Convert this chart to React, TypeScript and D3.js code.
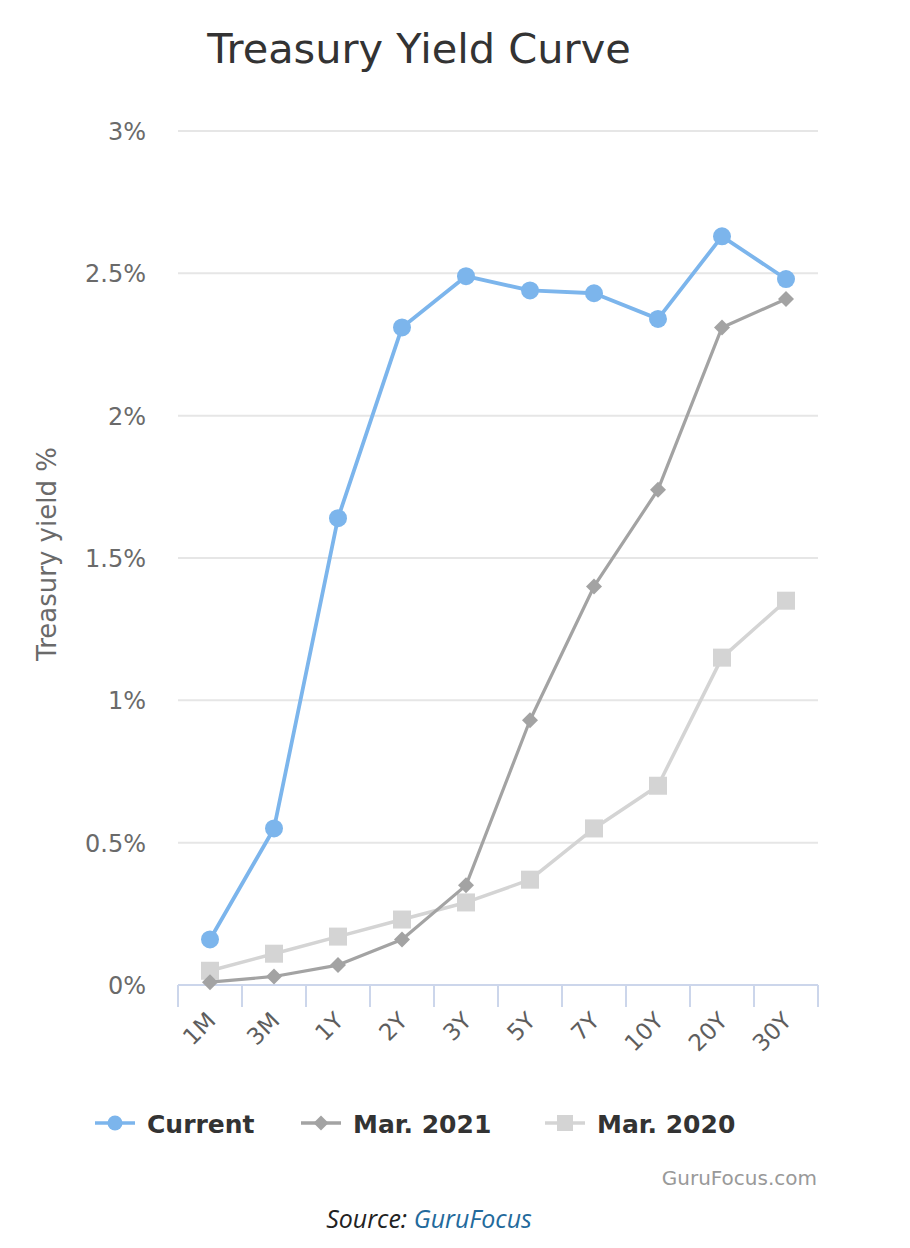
import React from "react";
import * as d3 from "d3";

const categories = ["1M", "3M", "1Y", "2Y", "3Y", "5Y", "7Y", "10Y", "20Y", "30Y"];
const currentValues = [0.16, 0.55, 1.64, 2.31, 2.49, 2.44, 2.43, 2.34, 2.63, 2.48];
const mar2021Values = [0.01, 0.03, 0.07, 0.16, 0.35, 0.93, 1.4, 1.74, 2.31, 2.41];
const mar2020Values = [0.05, 0.11, 0.17, 0.23, 0.29, 0.37, 0.55, 0.7, 1.15, 1.35];
const yTicks = [0, 0.5, 1, 1.5, 2, 2.5, 3];
const yTickLabels = ["0%", "0.5%", "1%", "1.5%", "2%", "2.5%", "3%"];
const seriesNames = ["Current", "Mar. 2021", "Mar. 2020"];

const W = 910;
const H = 1248;
const FONT = "'DejaVu Sans', Verdana, sans-serif";

type Shape = "circle" | "diamond" | "square";

function Marker({ cx, cy, shape, color, r }: { cx: number; cy: number; shape: Shape; color: string; r: number }) {
  if (shape === "circle") return <circle cx={cx} cy={cy} r={r} fill={color} />;
  if (shape === "diamond")
    return <path d={`M${cx},${cy - r}L${cx + r},${cy}L${cx},${cy + r}L${cx - r},${cy}Z`} fill={color} />;
  return <rect x={cx - r} y={cy - r} width={2 * r} height={2 * r} fill={color} />;
}

export default function App() {
  const x = d3.scaleBand<string>().domain(categories).range([178, 818]);
  const y = d3.scaleLinear().domain([0, 3]).range([985, 131]);
  const cx = (c: string) => (x(c) as number) + x.bandwidth() / 2;

  const series = [
    { name: seriesNames[2], values: mar2020Values, color: "#d4d4d4", shape: "square" as Shape, r: 9, lw: 3.5 },
    { name: seriesNames[1], values: mar2021Values, color: "#a3a3a3", shape: "diamond" as Shape, r: 8, lw: 3.2 },
    { name: seriesNames[0], values: currentValues, color: "#7cb5ec", shape: "circle" as Shape, r: 9, lw: 3.8 },
  ];

  const line = d3
    .line<number>()
    .x((_, i) => cx(categories[i]))
    .y((v) => y(v));

  const tickXs = categories.map((c) => x(c) as number).concat([x.range()[1]]);

  const legendItems = [
    { name: seriesNames[0], color: "#7cb5ec", shape: "circle" as Shape, r: 7.5, x0: 95 },
    { name: seriesNames[1], color: "#a3a3a3", shape: "diamond" as Shape, r: 7.5, x0: 301 },
    { name: seriesNames[2], color: "#d4d4d4", shape: "square" as Shape, r: 8, x0: 545 },
  ];

  return (
    <svg
      width={W}
      height={H}
      style={{ position: "absolute", left: 0, top: 0, display: "block", background: "#fff" }}
    >
      <rect x={0} y={0} width={W} height={H} fill="#fff" />
      <text x={419} y={63} textAnchor="middle" fontFamily={FONT} fontSize={41.5} fill="#333">
        Treasury Yield Curve
      </text>

      {yTicks.slice(1).map((t) => (
        <line key={t} x1={178} x2={818} y1={y(t)} y2={y(t)} stroke="#e6e6e6" strokeWidth={2} />
      ))}
      {yTicks.map((t, i) => (
        <text key={t} x={146} y={y(t) + 9} textAnchor="end" fontFamily={FONT} fontSize={24} fill="#6a6a6a">
          {yTickLabels[i]}
        </text>
      ))}
      <text
        transform="translate(56,554) rotate(-90)"
        textAnchor="middle"
        fontFamily={FONT}
        fontSize={26}
        fill="#6a6a6a"
      >
        Treasury yield %
      </text>

      <line x1={178} x2={818} y1={985} y2={985} stroke="#ccd6eb" strokeWidth={2} />
      {tickXs.map((tx, i) => (
        <line key={i} x1={tx} x2={tx} y1={985} y2={1007} stroke="#ccd6eb" strokeWidth={2} />
      ))}
      {categories.map((c) => (
        <text
          key={c}
          transform={`translate(${cx(c) + 7},1022) rotate(-45)`}
          textAnchor="end"
          fontFamily={FONT}
          fontSize={23}
          fill="#5e5e5e"
        >
          {c}
        </text>
      ))}

      {series.map((s) => (
        <g key={s.name}>
          <path d={line(s.values) || ""} fill="none" stroke={s.color} strokeWidth={s.lw} strokeLinejoin="round" />
          {s.values.map((v, i) => (
            <Marker key={i} cx={cx(categories[i])} cy={y(v)} shape={s.shape} color={s.color} r={s.r} />
          ))}
        </g>
      ))}

      {legendItems.map((it) => (
        <g key={it.name}>
          <line x1={it.x0} x2={it.x0 + 40} y1={1123} y2={1123} stroke={it.color} strokeWidth={3.5} />
          <Marker cx={it.x0 + 20} cy={1123} shape={it.shape} color={it.color} r={it.r} />
          <text x={it.x0 + 52} y={1133} fontFamily={FONT} fontWeight="bold" fontSize={25} fill="#333">
            {it.name}
          </text>
        </g>
      ))}

      <text x={817} y={1185} textAnchor="end" fontFamily={FONT} fontSize={20} fill="#999">
        GuruFocus.com
      </text>

      <text x={429} y={1228} textAnchor="middle" fontFamily="'Open Sans', sans-serif" fontStyle="italic" fontSize={25}>
        <tspan fill="#222">Source: </tspan>
        <tspan fill="#236a9c">GuruFocus</tspan>
      </text>
    </svg>
  );
}
